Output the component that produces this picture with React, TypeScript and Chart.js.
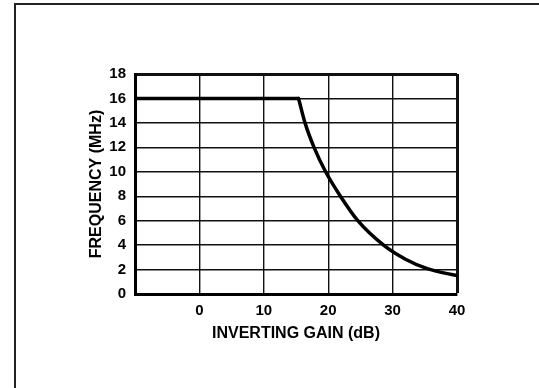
import React, { useEffect, useRef } from "react";
import { Chart, registerables } from "chart.js";

Chart.register(...registerables);

// Flat region (MHz vs dB)
const flatGain = [-10, 15.4];
const flatFreq = [16, 16];
// Roll-off region
const rollGain = [15.4, 16.4, 17.8, 19.6, 21.9, 24.6, 28.6, 32, 35.5, 40];
const rollFreq = [16, 14, 12, 10, 8, 6, 4, 2.85, 2.05, 1.5];

const xMin = -10;
const xMax = 40;
const xStep = 10;
const yMin = 0;
const yMax = 18;
const yStep = 2;
const hiddenXTick = -10;

const xTitle = "INVERTING GAIN (dB)";
const yTitle = "FREQUENCY (MHz)";

const FONT = "'Liberation Sans', Arial, Helvetica, sans-serif";

const frameBorder = {
  id: "frameBorder",
  beforeDraw(chart: any) {
    const { ctx, width } = chart;
    ctx.save();
    ctx.fillStyle = "#fff";
    ctx.fillRect(0, 0, chart.width, chart.height);
    ctx.strokeStyle = "#222";
    ctx.lineWidth = 2;
    ctx.beginPath();
    ctx.moveTo(15, chart.height);
    ctx.lineTo(15, 4);
    ctx.lineTo(width, 4);
    ctx.stroke();
    ctx.restore();
  },
};

export default function App() {
  const ref = useRef<HTMLCanvasElement | null>(null);

  useEffect(() => {
    if (!ref.current) return;
    const toPts = (xs: number[], ys: number[]) => xs.map((x, i) => ({ x, y: ys[i] }));
    const lineStyle = {
      borderColor: "#000",
      borderWidth: 3.5,
      pointRadius: 0,
      showLine: true,
      fill: false,
      cubicInterpolationMode: "monotone" as const,
      borderCapStyle: "round" as const,
      borderJoinStyle: "round" as const,
    };
    const chart = new Chart(ref.current, {
      type: "scatter",
      data: {
        datasets: [
          { data: toPts(flatGain, flatFreq), ...lineStyle },
          { data: toPts(rollGain, rollFreq), ...lineStyle },
        ],
      },
      plugins: [frameBorder],
      options: {
        responsive: false,
        animation: false,
        devicePixelRatio: 1,
        layout: { padding: { left: 0, top: 74, right: 82, bottom: 44 } },
        plugins: { legend: { display: false }, tooltip: { enabled: false } },
        scales: {
          x: {
            type: "linear",
            min: xMin,
            max: xMax,
            afterFit: (s: any) => {
              s.height = 50;
            },
            ticks: {
              stepSize: xStep,
              color: "#000",
              padding: 8,
              maxRotation: 0,
              font: { family: FONT, size: 15, weight: "bold" },
              callback: (v: any) => (Number(v) === hiddenXTick ? "" : String(v)),
            },
            grid: {
              color: "#111",
              lineWidth: (c: any) => (c.tick && c.tick.value === xMax ? 3 : 1.4),
              drawTicks: false,
            },
            border: { display: true, color: "#000", width: 3 },
            title: {
              display: true,
              text: xTitle,
              color: "#000",
              font: { family: FONT, size: 16, weight: "bold" },
              padding: { top: 0, bottom: 1 },
            },
          },
          y: {
            type: "linear",
            min: yMin,
            max: yMax,
            afterFit: (s: any) => {
              s.width = 135;
            },
            ticks: {
              stepSize: yStep,
              color: "#000",
              padding: 9,
              font: { family: FONT, size: 15, weight: "bold" },
            },
            grid: {
              color: "#111",
              lineWidth: (c: any) => (c.tick && c.tick.value === yMax ? 3 : 1.4),
              drawTicks: false,
            },
            border: { display: true, color: "#000", width: 3 },
            title: {
              display: true,
              text: yTitle,
              color: "#000",
              font: { family: FONT, size: 16, weight: "bold" },
              padding: { top: 87, bottom: 0 },
            },
          },
        },
      },
    });
    return () => chart.destroy();
  }, []);

  return (
    <div style={{ position: "absolute", left: 0, top: 0, width: 539, height: 388 }}>
      <canvas ref={ref} width={539} height={388} style={{ width: 539, height: 388, display: "block" }} />
    </div>
  );
}
